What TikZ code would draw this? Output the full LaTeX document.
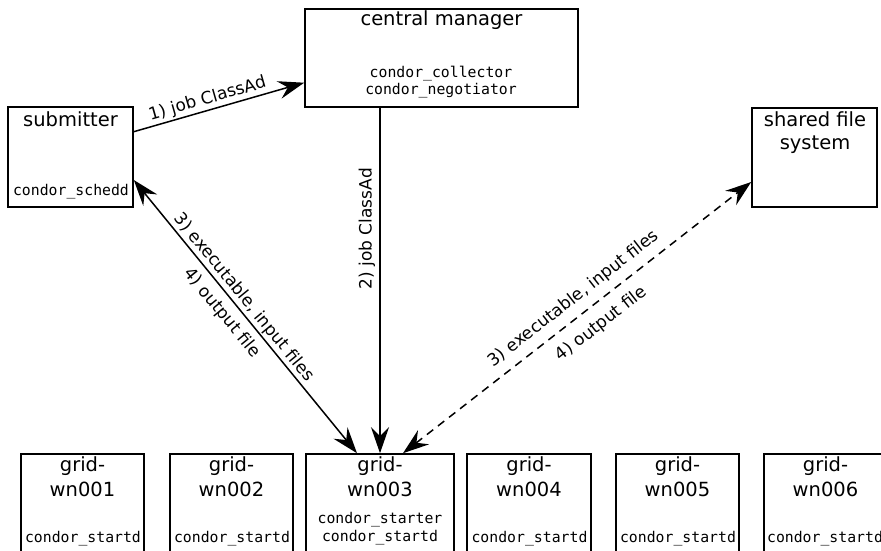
\documentclass[tikz,border=0pt]{standalone}
\usepackage{fontspec}
\setmainfont{DejaVu Sans}
\newfontfamily\monofont{DejaVu Sans Mono}
\usetikzlibrary{arrows.meta}
\begin{document}
\begin{tikzpicture}[x=1pt,y=-1pt,
  box/.style={draw, line width=1.6pt, inner sep=0pt},
  ttl/.style={font=\fontsize{19.5}{23}\selectfont, anchor=base, inner sep=0pt},
  dmn/.style={font=\monofont\fontsize{14.8}{18}\selectfont, anchor=base, inner sep=0pt},
  lbl/.style={font=\fontsize{17}{20}\selectfont, inner sep=2pt},
  tipA/.tip={Stealth[length=26pt,width=18pt,inset=9pt]},
  conn/.style={line width=1.5pt},
  gridbox/.style={box, minimum width=123pt, minimum height=110pt}]
\useasboundingbox (0,0) rectangle (881,551);
\clip (0,0) rectangle (881,551);

% submitter
\node[box, minimum width=125pt, minimum height=100pt] (sub) at (70.5,157) {};
\node[ttl] (subT) at (70.5,126) {submitter};
\node[dmn] (subD) at (71,195) {condor\_schedd};

% central manager
\node[box, minimum width=273pt, minimum height=98pt] (cm) at (441.5,58) {};
\node[ttl] (cmT) at (441.5,26) {central manager};
\node[dmn] (cmD1) at (441,77.3) {condor\_collector};
\node[dmn] (cmD2) at (441,94.5) {condor\_negotiator};

% shared file system
\node[box, minimum width=125pt, minimum height=99pt] (sfs) at (814.5,157.5) {};
\node[ttl] (sfsT1) at (815,126.7) {shared file};
\node[ttl] (sfsT2) at (815,149.3) {system};

% grid worker nodes
\node[gridbox] (g1) at (82.5,509) {};
\node[gridbox] (g2) at (231.5,509) {};
\node[gridbox, minimum width=148pt] (g3) at (380,509) {};
\node[gridbox, minimum width=124pt] (g4) at (529,509) {};
\node[gridbox] (g5) at (677.5,509) {};
\node[gridbox] (g6) at (825.5,509) {};

\foreach \n/\x/\t in {g1t/82.5/001, g2t/231.5/002, g3t/380/003, g4t/529/004, g5t/677.5/005, g6t/825.5/006}{
  \node[ttl] (\n a) at (\x,471.7) {grid-};
  \node[ttl] (\n b) at (\x,496) {wn\t};
}
\node[dmn] (g1d) at (83,542) {condor\_startd};
\node[dmn] (g2d) at (232,542) {condor\_startd};
\node[dmn] (g3s) at (380,523.3) {condor\_starter};
\node[dmn] (g3d) at (380,541.7) {condor\_startd};
\node[dmn] (g4d) at (529.5,542) {condor\_startd};
\node[dmn] (g5d) at (678,542) {condor\_startd};
\node[dmn] (g6d) at (825,542) {condor\_startd};

% connectors
\draw[conn, -tipA] ([yshift=25.3pt]sub.east) -- ([yshift=-24.7pt]cm.west)
  node[lbl, sloped, above, pos=0.45] {1) job ClassAd};
\draw[conn, tipA-] (g3.north) -- ([xshift=-61.5pt]cm.south)
  node[lbl, sloped, above=2pt, pos=0.65] {2) job ClassAd};
\draw[conn, tipA-tipA] ([yshift=-23pt]sub.east) -- ([xshift=-23pt]g3.north)
  node[lbl, sloped, above, pos=0.455] {3) executable, input files}
  node[lbl, sloped, below=5pt, pos=0.45] {4) output file};
\draw[conn, tipA-tipA, dash pattern=on 8pt off 6pt] ([xshift=23pt]g3.north) -- ([yshift=-24.5pt]sfs.west)
  node[lbl, sloped, above=6pt, pos=0.52] {3) executable, input files}
  node[lbl, sloped, below=9pt, pos=0.535] {4) output file};
\end{tikzpicture}
\end{document}
